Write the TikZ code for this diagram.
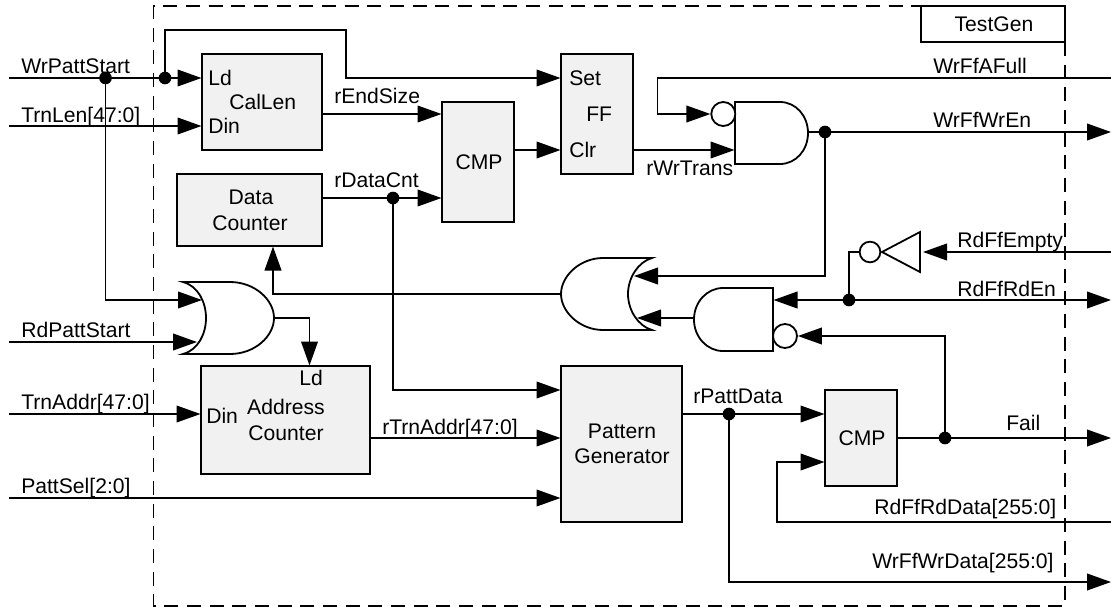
\documentclass[tikz,border=0pt]{standalone}
\usepackage{fontspec}
\setmainfont{Liberation Sans}
\usetikzlibrary{arrows.meta}
\definecolor{boxfill}{HTML}{F1F1F1}
\tikzset{
  wire/.style={line width=1.35pt,line join=miter},
  sig/.style={wire,-{Triangle[length=18pt,width=12.5pt]}},
  sigboth/.style={wire,{Triangle[length=18pt,width=12.5pt]}-{Triangle[length=18pt,width=12.5pt]}},
  block/.style={draw,line width=1.35pt,fill=boxfill,inner sep=0pt},
  gate/.style={draw,line width=1.35pt,fill=white},
  lbl/.style={inner sep=0pt,anchor=base west,font=\fontsize{15.85}{18}\selectfont},
  lblc/.style={inner sep=0pt,anchor=base,font=\fontsize{15.85}{18}\selectfont},
  dotj/.style={circle,fill=black,inner sep=0pt,minimum size=9.5pt},
  bubble/.style={circle,draw,line width=1.35pt,fill=white,inner sep=0pt,minimum size=18pt},
  frame/.style={line width=1.2pt,dash pattern=on 10.5pt off 6.5pt},
}
\newcommand{\boxat}[5]{\node[block,minimum width=#4*0.75pt,minimum height=#5*0.75pt] (#1) at (#2,#3) {};}
\begin{document}
\begin{tikzpicture}[x=0.75pt,y=-0.75pt]
\useasboundingbox (0,0) rectangle (1111,607);
% frame
\draw[frame] (1065,42) -- (1065,606) -- (153.5,606) -- (153.5,6) -- (921,6);
\node[draw,line width=1.35pt,inner sep=0pt,minimum width=108pt,minimum height=27pt] (tg) at (993,24) {};
% blocks
\boxat{cal}{262}{102}{120}{96}
\boxat{dc}{249.5}{210}{145}{72}
\boxat{cmpa}{478}{162}{72}{120}
\boxat{ff}{597}{114}{72}{120}
\boxat{ac}{285.5}{420}{169}{108}
\boxat{pg}{621.5}{444}{121}{156}
\boxat{cmpb}{861}{438}{72}{96}
% gates
\path[gate] (183,282) -- (230,282) .. controls (255,282) and (274,300) .. (274,318)
  .. controls (274,336) and (255,354) .. (230,354) -- (183,354)
  .. controls (198,350) and (206,334) .. (206,318) .. controls (206,302) and (198,286) .. (183,282) -- cycle;
\path[gate] (652,258) -- (603,258) .. controls (580,258) and (561,276) .. (561,294)
  .. controls (561,312) and (580,330) .. (603,330) -- (652,330)
  .. controls (638,326) and (628,310) .. (628,294) .. controls (628,278) and (638,262) .. (652,258) -- cycle;
\path[gate] (735,102) -- (780,102) .. controls (796,102) and (808,116) .. (808,133)
  .. controls (808,150) and (796,164) .. (780,164) -- (735,164) -- cycle;
\path[gate] (773,288) -- (723,288) .. controls (707,288) and (694,302) .. (694,319.5)
  .. controls (694,337) and (707,351) .. (723,351) -- (773,351) -- cycle;
\path[gate] (920,232) -- (882,252) -- (920,272) -- cycle;
% bubbles
\node[bubble] (bubA) at (723.3,114) {};
\node[bubble] (bubB) at (785,336) {};
\node[bubble,minimum size=15.5pt] (bubC) at (870,252) {};
% pins and free ends
\coordinate (inWrP) at (9,78);      \coordinate (calLd) at (201.5,78);
\coordinate (inTm) at (9,126);      \coordinate (calDin) at (201.5,126);
\coordinate (inRdP) at (9,342);     \coordinate (orAb) at (197,342);
\coordinate (orAa) at (202,300);    \coordinate (orAout) at (274,318);
\coordinate (inAddr) at (9,414);    \coordinate (acDin) at (200.5,414);
\coordinate (inSel) at (9,498);     \coordinate (pgSel) at (560.5,498);
\coordinate (acLd) at (309.5,365.5);
\coordinate (calOut) at (322,114);  \coordinate (cmpaA) at (441.5,114);
\coordinate (dcOut) at (322,198);   \coordinate (cmpaB) at (441.5,198);
\coordinate (cmpaOut) at (514,150); \coordinate (ffClr) at (560.5,150);
\coordinate (ffSet) at (560.5,78);  \coordinate (ffOut) at (633,150);
\coordinate (andA) at (734.5,150);  \coordinate (andOut) at (808,132);
\coordinate (outAF) at (1111,78);   \coordinate (outWE) at (1111,132);
\coordinate (orBa) at (634,276);    \coordinate (orBb) at (637,318);
\coordinate (orBout) at (561,294);  \coordinate (dcIn) at (273,246.5);
\coordinate (andBout) at (694,318); \coordinate (andBa) at (773.5,300);
\coordinate (outRE) at (1111,300);  \coordinate (inEmpty) at (1111,252);
\coordinate (invIn) at (923,252);   \coordinate (pgA) at (560.5,390);
\coordinate (acOut) at (370,438);   \coordinate (pgB) at (560.5,438);
\coordinate (pgOut) at (682,414);   \coordinate (cmpbA) at (824.5,414);
\coordinate (cmpbOut) at (897,438); \coordinate (outFail) at (1111,438);
\coordinate (cmpbB) at (824.5,462); \coordinate (inRdD) at (1111,522);
\coordinate (outWD) at (1111,582);
% junctions
\node[dotj] (jA) at (105.5,78) {};
\node[dotj] (jB) at (165,78) {};
\node[dotj] (jC) at (393,198) {};
\node[dotj] (jD) at (825,132) {};
\node[dotj] (jE) at (849,300) {};
\node[dotj] (jF) at (729,414) {};
\node[dotj] (jG) at (945,438) {};
% connectors
\draw[sig] (inWrP) -- (calLd);
\draw[sig] (inTm) -- (calDin);
\draw[sig] (jA.center) |- (orAa);
\draw[sig] (inRdP) -- (orAb);
\draw[sig] (orAout) -| (acLd);
\draw[sig] (inAddr) -- (acDin);
\draw[sig] (inSel) -- (pgSel);
\draw[sig] (jB.center) |- (346,30) |- (ffSet);
\draw[sig] (calOut) -- (cmpaA);
\draw[sig] (dcOut) -- (cmpaB);
\draw[sig] (cmpaOut) -- (ffClr);
\draw[sig] (ffOut) -- (andA);
\draw[sig] (outAF) -| (657.5,114) -- (bubA.west);
\draw[wire] (andOut) -- (jD.center);
\draw[sig] (jD.center) -- (outWE);
\draw[sig] (jD.center) |- (orBa);
\draw[sig] (orBout) -| (dcIn);
\draw[sig] (andBout) -- (orBb);
\draw[sigboth] (andBa) -- (outRE);
\draw[sig] (inEmpty) -- (invIn);
\draw[wire] (bubC.west) -| (jE.center);
\draw[sig] (jC.center) |- (pgA);
\draw[sig] (acOut) -- (pgB);
\draw[sig] (pgOut) -- (cmpbA);
\draw[sig] (jF.center) |- (outWD);
\draw[sig] (cmpbOut) -- (outFail);
\draw[sig] (jG.center) |- (bubB.east);
\draw[sig] (inRdD) -| (777,462) -- (cmpbB);
% labels
\node[lblc] (tTestGen) at (994,31) {TestGen};
\node[lbl] (tWrP) at (21,73) {WrPattStart};
\node[lbl] (tTm) at (21,122) {TrnLen[47:0]};
\node[lbl] (tRdP) at (21,337) {RdPattStart};
\node[lbl] (tAddr) at (21,409) {TrnAddr[47:0]};
\node[lbl] (tSel) at (21,493) {PattSel[2:0]};
\node[lbl] (tLdA) at (208,85) {Ld};
\node[lbl] (tCal) at (229,109) {CalLen};
\node[lbl] (tDinA) at (208,133) {Din};
\node[lblc] (tData) at (251,204) {Data};
\node[lblc] (tCount) at (250,230) {Counter};
\node[lbl] (tEnd) at (334,103) {rEndSize};
\node[lbl] (tCnt) at (334,187) {rDataCnt};
\node[lblc] (tCmpA) at (479,169) {CMP};
\node[lbl] (tSet) at (569,85) {Set};
\node[lbl] (tFF) at (586,121) {FF};
\node[lbl] (tClr) at (569,157) {Clr};
\node[lbl] (tTrans) at (646,175) {rWrTrans};
\node[lbl] (tAF) at (933,73) {WrFfAFull};
\node[lbl] (tWE) at (933,127) {WrFfWrEn};
\node[lbl] (tEmpty) at (957,247) {RdFfEmpty};
\node[lbl] (tRE) at (957,296) {RdFfRdEn};
\node[lbl] (tLdB) at (299,385) {Ld};
\node[lbl] (tDinB) at (206,423) {Din};
\node[lblc] (tAddrA) at (286,414) {Address};
\node[lblc] (tAddrB) at (286,440) {Counter};
\node[lbl] (tTrn) at (382,434) {rTrnAddr[47:0]};
\node[lblc] (tPat) at (622,438) {Pattern};
\node[lblc] (tGen) at (622,463) {Generator};
\node[lbl] (tPD) at (693,403) {rPattData};
\node[lblc] (tCmpB) at (862,445) {CMP};
\node[lbl] (tFail) at (1006,430) {Fail};
\node[lbl] (tRD) at (874,514) {RdFfRdData[255:0]};
\node[lbl] (tWD) at (872,568) {WrFfWrData[255:0]};
\end{tikzpicture}
\end{document}
